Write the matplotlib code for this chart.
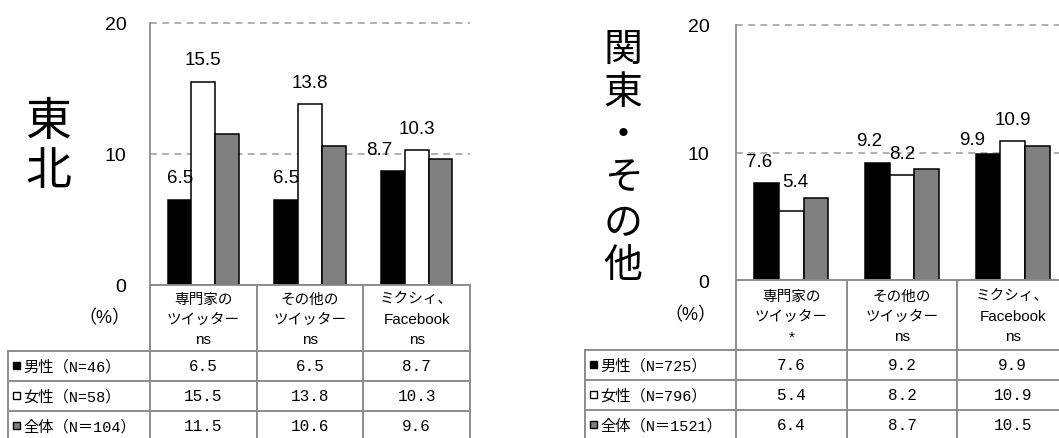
import matplotlib
matplotlib.use('Agg')
import matplotlib.pyplot as plt
from matplotlib.patches import Rectangle
import numpy as np

W, H = 1059, 439

# categories (header cells) and significance marks
categories = [['専門家の', 'ツイッター'], ['その他の', 'ツイッター'], ['ミクシィ、', 'Facebook']]
tohoku_sig = ['ns', 'ns', 'ns']
kanto_sig = ['*', 'ns', 'ns']

series_names = ['男性', '女性', '全体']
tohoku_n = ['（N=46）', '（N=58）', '（N＝104）']
kanto_n = ['（N=725）', '（N=796）', '（N＝1521）']

tohoku_male = [6.5, 6.5, 8.7]
tohoku_female = [15.5, 13.8, 10.3]
tohoku_total = [11.5, 10.6, 9.6]

kanto_male = [7.6, 9.2, 9.9]
kanto_female = [5.4, 8.2, 10.9]
kanto_total = [6.4, 8.7, 10.5]

yticks = [0, 10, 20]

bar_colors = ['black', 'white', '#808080']
grid_color = '#9a9a9a'
line_color = '#8c8c8c'

SANS = 'Liberation Sans'
CJK = 'Noto Sans CJK JP'
MONO = ['Liberation Mono', 'Noto Sans CJK JP']

fig = plt.figure(figsize=(W / 100, H / 100), dpi=100)
ov = fig.add_axes([0, 0, 1, 1], zorder=5)
ov.set_xlim(0, W)
ov.set_ylim(H, 0)
ov.axis('off')


def draw_panel(title, title_size, title_x, title_y, x0, x1, y_zero, y_top,
               label_x, header_bottom, series, sig, n_labels, nudges, tick_pad):
    ax = fig.add_axes([x0 / W, (H - y_zero) / H, (x1 - x0) / W, (y_zero - y_top) / H])
    ax.set_xlim(-0.5, 2.5)
    ax.set_ylim(0, 20)
    x = np.arange(len(categories))
    bw = 0.222
    for i, vals in enumerate(series):
        ax.bar(x + (i - 1) * bw, vals, bw, color=bar_colors[i],
               edgecolor='black', linewidth=1.1, zorder=3)
    for v in yticks[1:]:
        ax.axhline(v, color=grid_color, lw=1.1, ls=(0, (4.5, 3.5)), clip_on=False, zorder=1)
    for s in ['top', 'right', 'bottom']:
        ax.spines[s].set_visible(False)
    ax.spines['left'].set_color(line_color)
    ax.spines['left'].set_linewidth(1.3)
    ax.set_xticks([])
    ax.set_yticks(yticks)
    ax.set_yticklabels([str(t) for t in yticks], fontfamily=SANS, fontsize=14)
    ax.tick_params(axis='y', length=0, pad=tick_pad)

    # value labels for male / female bars
    for i in range(2):
        for j, v in enumerate(series[i]):
            dx, dy = nudges.get((i, j), (0, 0))
            ax.annotate(f'{v:.1f}', (x[j] + (i - 1) * bw, v), xytext=(dx, 22 + dy),
                        textcoords='offset pixels', ha='center', va='center',
                        fontfamily=SANS, fontsize=13.5, zorder=4)

    # vertical region title
    for k, ch in enumerate(title):
        ov.text(title_x, title_y[k], ch, ha='center', va='center',
                fontfamily=CJK, fontsize=title_size)

    # column boundaries of the data table follow the bar axes
    bounds = [ax.transData.transform((b, 0))[0] for b in np.arange(-0.5, 3.0, 1.0)]
    row_h = 30
    bottom = H + 5
    lw = 1.4
    ov.plot([bounds[0], bounds[-1]], [y_zero, y_zero], color=line_color, lw=lw)
    for r in range(3):
        yy = header_bottom + r * row_h
        ov.plot([label_x, bounds[-1]], [yy, yy], color=line_color, lw=lw)
    ov.plot([label_x, label_x], [header_bottom, bottom], color=line_color, lw=lw)
    for b in bounds:
        ov.plot([b, b], [y_zero, bottom], color=line_color, lw=lw)

    # header cells
    hc = (y_zero + header_bottom) / 2
    for j, lines in enumerate(categories):
        cx = (bounds[j] + bounds[j + 1]) / 2
        for k, t in enumerate(lines + [sig[j]]):
            fam = CJK if k < 2 and t != 'Facebook' else SANS
            ov.text(cx, hc - 19.5 + k * 20.5, t, ha='center', va='center',
                    fontfamily=fam, fontsize=10.5 if fam == CJK else 11)
    ov.text(bounds[0] - 20, hc, '（%）', ha='right', va='center',
            fontfamily=[SANS, CJK], fontsize=13)

    # table rows
    for r in range(3):
        yc = header_bottom + r * row_h + row_h / 2
        ov.add_patch(Rectangle((label_x + 5, yc - 4), 7, 7, facecolor=bar_colors[r],
                               edgecolor='black', lw=1.0))
        ov.text(label_x + 15, yc, series_names[r] + n_labels[r], ha='left',
                va='center', fontfamily=MONO, fontsize=11)
        for j, v in enumerate(series[r]):
            cx = (bounds[j] + bounds[j + 1]) / 2
            ov.text(cx, yc, f'{v:.1f}', ha='center', va='center',
                    fontfamily=MONO, fontsize=11.5)
    return ax


draw_panel('東北', 33, 48, [122, 172], 150, 470, 286, 24, 8, 352,
           [tohoku_male, tohoku_female, tohoku_total], tohoku_sig, tohoku_n,
           {(0, 2): (-14, 0)}, 17)

draw_panel('関東・その他', 28, 623, [50, 93, 136, 179, 224, 266], 736, 1068, 281, 26, 585, 351,
           [kanto_male, kanto_female, kanto_total], kanto_sig, kanto_n,
           {(0, 0): (-8, 0), (0, 1): (-8, 0), (0, 2): (-16, -8), (1, 0): (4, 8)}, 19)

fig.savefig('out.png', dpi=100)
